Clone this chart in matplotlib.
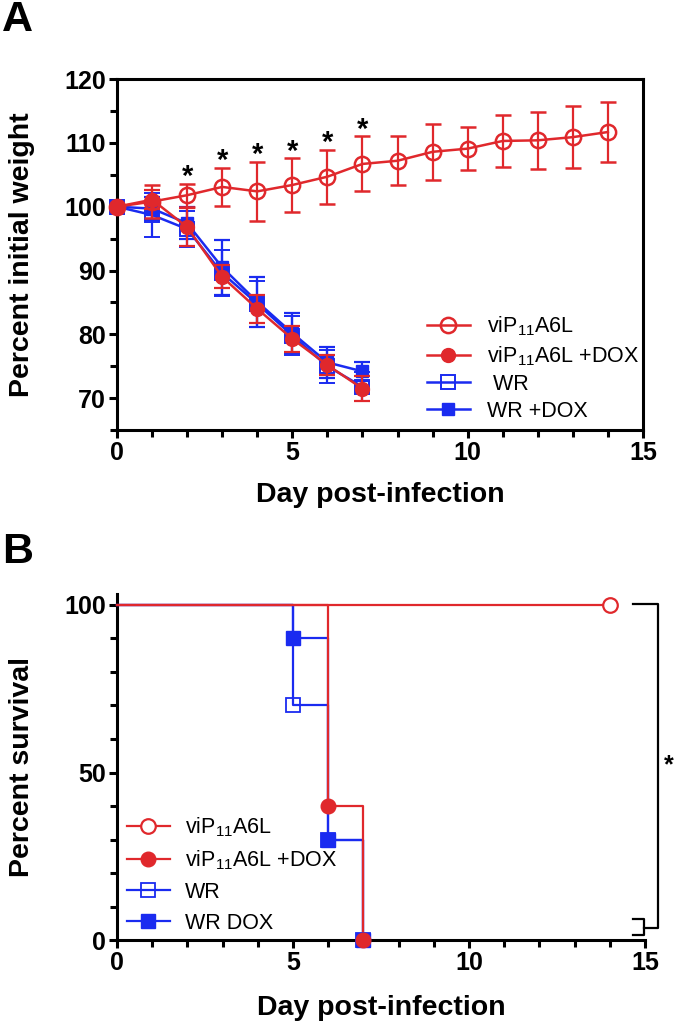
import numpy as np
import matplotlib
matplotlib.use("Agg")
import matplotlib.pyplot as plt
from matplotlib.lines import Line2D
from matplotlib.ticker import MultipleLocator

plt.rcParams['font.family'] = ['Liberation Sans', 'DejaVu Sans']
plt.rcParams['mathtext.fontset'] = 'custom'
plt.rcParams['mathtext.rm'] = 'Liberation Sans'
plt.rcParams['mathtext.default'] = 'regular'

# --- Panel A: weight data (mean, SD) ---
days_a = [0, 1, 2, 3, 4, 5, 6, 7, 8, 9, 10, 11, 12, 13, 14]
vip_mean = [100, 100.8, 101.8, 103.1, 102.4, 103.4, 104.7, 106.7, 107.2, 108.6, 109.1, 110.3, 110.4, 110.9, 111.7]
vip_sd = [0, 2.6, 1.8, 3.0, 4.6, 4.2, 4.2, 4.3, 3.8, 4.4, 3.4, 4.1, 4.5, 4.8, 4.7]

days_short = [0, 1, 2, 3, 4, 5, 6, 7]
vip_dox_mean = [100, 101.1, 96.8, 89.0, 84.0, 79.3, 75.2, 71.5]
vip_dox_sd = [0, 1.5, 3.0, 1.8, 2.2, 2.0, 1.6, 2.0]
wr_mean = [100, 98.7, 96.5, 89.6, 84.8, 79.8, 75.0, 71.8]
wr_sd = [0, 3.4, 2.8, 3.6, 3.6, 3.0, 2.6, 2.3]
wr_dox_mean = [100, 99.7, 97.4, 90.5, 85.1, 80.2, 75.6, 74.2]
wr_dox_sd = [0, 1.8, 2.5, 4.3, 3.9, 3.1, 2.4, 1.5]

star_days = [2, 3, 4, 5, 6, 7]

# --- Panel B: survival (Kaplan-Meier steps) ---
vip_t, vip_s = [0, 14], [100, 100]
vip_dox_t, vip_dox_s = [0, 6, 7], [100, 40, 0]
wr_t, wr_s = [0, 5, 6, 7], [100, 70, 30, 0]
wr_dox_t, wr_dox_s = [0, 5, 6, 7], [100, 90, 30, 0]

RED = '#E0282C'
BLUE = '#1A2BF0'
lbl_vip = 'viP$_{11}$A6L'

fig = plt.figure(figsize=(6.76, 10.24), dpi=100)
axA = fig.add_axes([0.1731, 0.580, 0.778, 0.3428])
axB = fig.add_axes([0.1731, 0.082, 0.781, 0.338])

def style_axis(ax):
    for s in ax.spines.values():
        s.set_linewidth(2.2)
    ax.tick_params(which='major', direction='out', length=6, width=2.2, labelsize=18, pad=2)
    ax.tick_params(which='minor', direction='out', length=5, width=2.2)
    for t in ax.get_xticklabels() + ax.get_yticklabels():
        t.set_fontweight('bold')

# ---------------- Panel A ----------------
ebkw = dict(capsize=5.5, elinewidth=1.6, capthick=1.6, linewidth=1.8, clip_on=False)
axA.errorbar(days_short, wr_dox_mean, yerr=wr_dox_sd, color=BLUE, marker='s', ms=9,
             mfc=BLUE, mec=BLUE, zorder=3, **ebkw)
axA.errorbar(days_short, wr_mean, yerr=wr_sd, color=BLUE, marker='s', ms=10,
             mfc='none', mec=BLUE, mew=1.4, zorder=3, **ebkw)
axA.errorbar(days_a, vip_mean, yerr=vip_sd, color=RED, marker='o', ms=11,
             mfc='none', mec=RED, mew=1.8, zorder=4, **ebkw)
axA.errorbar(days_short, vip_dox_mean, yerr=vip_dox_sd, color=RED, marker='o', ms=10,
             mfc=RED, mec=RED, zorder=5, **ebkw)

for d in star_days:
    axA.text(d, vip_mean[d] + vip_sd[d] - 0.2, '*', ha='center', va='baseline',
             fontsize=21, fontweight='bold')

axA.set_xlim(0, 15)
axA.set_ylim(65, 120)
axA.xaxis.set_major_locator(MultipleLocator(5))
axA.xaxis.set_minor_locator(MultipleLocator(1))
axA.set_yticks([70, 80, 90, 100, 110, 120])
axA.yaxis.set_minor_locator(MultipleLocator(5))
style_axis(axA)
axA.set_xlabel('Day post-infection', fontsize=20.5, fontweight='bold', labelpad=12)
axA.set_ylabel('Percent initial weight', fontsize=20.5, fontweight='bold')
axA.yaxis.set_label_coords(-0.155, 0.5)

hA = [Line2D([], [], color=RED, lw=1.8, marker='o', ms=11, mfc='none', mew=1.8),
      Line2D([], [], color=RED, lw=1.8, marker='o', ms=10, mfc=RED),
      Line2D([], [], color=BLUE, lw=1.8, marker='s', ms=10, mfc='none', mew=1.4),
      Line2D([], [], color=BLUE, lw=1.8, marker='s', ms=9, mfc=BLUE)]
axA.legend(hA, [lbl_vip, lbl_vip + ' +DOX', ' WR', 'WR +DOX'], loc='lower left',
           bbox_to_anchor=(0.56, -0.02), frameon=False, fontsize=15.5,
           handlelength=2.0, handletextpad=0.8, labelspacing=0.28, borderpad=0.2)

# ---------------- Panel B ----------------
stepkw = dict(where='post', linewidth=1.6, clip_on=False)
axB.step(wr_dox_t, wr_dox_s, color=BLUE, zorder=3, **stepkw)
axB.step(wr_t, wr_s, color=BLUE, zorder=3, **stepkw)
axB.step(vip_t, vip_s, color=RED, zorder=4, **stepkw)
axB.step(vip_dox_t, vip_dox_s, color=RED, zorder=4, **stepkw)

axB.plot(wr_t[1:], wr_s[1:], ls='none', marker='s', ms=10, mfc='none', mec=BLUE,
         mew=1.3, clip_on=False, zorder=5)
axB.plot(wr_dox_t[1:], wr_dox_s[1:], ls='none', marker='s', ms=10, color=BLUE,
         clip_on=False, zorder=5)
axB.plot(vip_t[1:], vip_s[1:], ls='none', marker='o', ms=10.5, mfc='white', mec=RED,
         mew=1.6, clip_on=False, zorder=6)
axB.plot(vip_dox_t[1:], vip_dox_s[1:], ls='none', marker='o', ms=10.5, color=RED,
         clip_on=False, zorder=6)

# significance bracket
axB.plot([14.67, 15.38, 15.38, 14.96], [100.3, 100.3, 3.6, 3.6], color='black',
         lw=1.6, clip_on=False)
axB.plot([14.67, 14.96, 14.96, 14.67], [6.2, 6.2, 1.6, 1.6], color='black',
         lw=1.6, clip_on=False)
axB.text(15.68, 52, '*', ha='center', va='center', fontsize=18, fontweight='bold')

axB.set_xlim(0, 15)
axB.set_ylim(0, 103.3)
axB.xaxis.set_major_locator(MultipleLocator(5))
axB.xaxis.set_minor_locator(MultipleLocator(1))
axB.set_yticks([0, 50, 100])
axB.yaxis.set_minor_locator(MultipleLocator(10))
axB.spines['top'].set_visible(False)
axB.spines['right'].set_visible(False)
style_axis(axB)
axB.set_xlabel('Day post-infection', fontsize=20.5, fontweight='bold', labelpad=14)
axB.set_ylabel('Percent survival', fontsize=20.5, fontweight='bold')
axB.yaxis.set_label_coords(-0.155, 0.5)

hB = [Line2D([], [], color=RED, lw=1.6, marker='o', ms=10.5, mfc='white', mew=1.6),
      Line2D([], [], color=RED, lw=1.6, marker='o', ms=10.5, mfc=RED),
      Line2D([], [], color=BLUE, lw=1.6, marker='s', ms=10, mfc='none', mew=1.3),
      Line2D([], [], color=BLUE, lw=1.6, marker='s', ms=10, mfc=BLUE)]
axB.legend(hB, [lbl_vip, lbl_vip + ' +DOX', 'WR', 'WR DOX'], loc='lower left',
           bbox_to_anchor=(-0.01, -0.025), frameon=False, fontsize=15.5,
           handlelength=2.0, handletextpad=0.7, labelspacing=0.45, borderpad=0.2)

fig.text(0.003, 1.0, 'A', fontsize=31, fontweight='bold', va='top', ha='left')
fig.text(0.003, 0.48, 'B', fontsize=31, fontweight='bold', va='top', ha='left')

fig.savefig('out.png', dpi=100)
